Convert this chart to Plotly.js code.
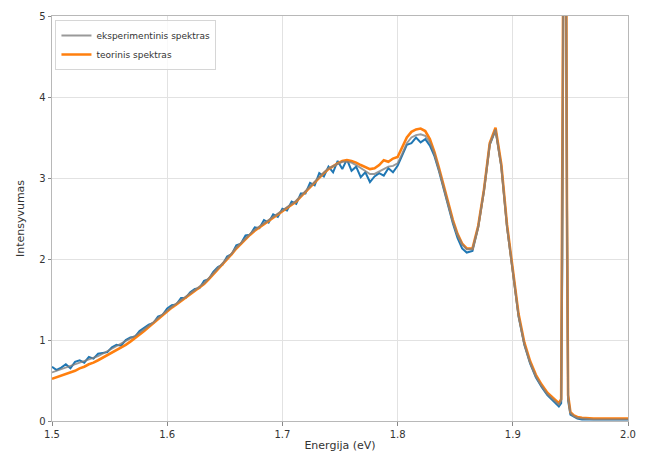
<!DOCTYPE html>
<html>
<head>
<meta charset="utf-8">
<script src="https://cdn.plot.ly/plotly-3.0.1.min.js"></script>
<style>html,body{margin:0;padding:0;background:#fff;}#chart{width:649px;height:461px;}</style>
</head>
<body>
<div id="chart"></div>
<script>
const energy = [
1.500,1.504,1.508,1.512,1.516,1.520,1.524,1.528,1.532,1.536,
1.540,1.544,1.548,1.552,1.556,1.560,1.564,1.568,1.572,1.576,
1.580,1.584,1.588,1.592,1.596,1.600,1.604,1.608,1.612,1.616,
1.620,1.624,1.628,1.632,1.636,1.640,1.644,1.648,1.652,1.656,
1.660,1.664,1.668,1.672,1.676,1.680,1.684,1.688,1.692,1.696,
1.700,1.704,1.708,1.712,1.716,1.720,1.724,1.728,1.732,1.736,
1.740,1.744,1.748,1.752,1.756,1.760,1.764,1.768,1.772,1.776,
1.780,1.784,1.788,1.792,1.796,1.800,1.804,1.808,1.812,1.816,
1.820,1.824,1.828,1.832,1.836,1.840,1.844,1.848,1.852,1.856,
1.860,1.865,1.870,1.875,1.880,1.885,1.890,1.895,1.900,1.905,
1.910,1.915,1.920,1.925,1.930,1.935,1.938,1.940,1.942,1.943,
1.944,1.945,1.946,1.947,1.948,1.950,1.953,1.956,1.960,1.970,
1.980,1.990,2.000
];

const expSmooth = [
0.60,0.62,0.64,0.66,0.68,0.70,0.72,0.74,0.76,0.78,
0.80,0.83,0.86,0.89,0.92,0.95,0.98,1.01,1.05,1.09,
1.13,1.17,1.22,1.27,1.32,1.37,1.41,1.45,1.49,1.53,
1.57,1.61,1.65,1.70,1.76,1.82,1.88,1.94,2.00,2.07,
2.14,2.20,2.26,2.31,2.36,2.40,2.44,2.48,2.51,2.55,
2.59,2.63,2.67,2.72,2.78,2.84,2.90,2.96,3.02,3.07,
3.12,3.15,3.18,3.20,3.20,3.19,3.16,3.12,3.08,3.05,
3.05,3.08,3.12,3.14,3.15,3.18,3.30,3.43,3.50,3.53,
3.54,3.52,3.44,3.30,3.10,2.88,2.66,2.46,2.30,2.18,
2.12,2.12,2.40,2.85,3.42,3.60,3.15,2.40,1.85,1.30,
0.95,0.72,0.55,0.43,0.33,0.26,0.22,0.20,0.25,2.5,
6.0,12.0,6.0,2.5,0.30,0.10,0.06,0.04,0.03,0.02,
0.02,0.02,0.02
];

const expRaw = [
0.67,0.63,0.66,0.70,0.65,0.73,0.75,0.72,0.79,0.77,
0.83,0.84,0.85,0.91,0.94,0.93,1.00,1.03,1.04,1.11,
1.15,1.19,1.21,1.29,1.31,1.39,1.43,1.44,1.52,1.52,
1.59,1.63,1.64,1.73,1.75,1.84,1.90,1.93,2.03,2.06,
2.17,2.19,2.29,2.30,2.39,2.38,2.48,2.45,2.55,2.52,
2.62,2.60,2.71,2.68,2.81,2.81,2.94,2.91,3.06,3.02,
3.14,3.07,3.21,3.11,3.23,3.09,3.14,3.01,3.07,2.95,
3.02,3.06,3.03,3.12,3.07,3.15,3.28,3.41,3.43,3.50,
3.44,3.48,3.40,3.27,3.08,2.86,2.64,2.44,2.26,2.13,
2.08,2.10,2.39,2.84,3.41,3.59,3.14,2.39,1.84,1.29,
0.94,0.71,0.54,0.42,0.32,0.25,0.21,0.18,0.22,2.0,
5.5,11.0,5.5,2.0,0.25,0.08,0.05,0.03,0.02,0.02,
0.02,0.02,0.02
];

const theory = [
0.52,0.54,0.56,0.58,0.60,0.62,0.65,0.67,0.70,0.72,
0.75,0.78,0.81,0.84,0.87,0.90,0.94,0.98,1.02,1.06,
1.11,1.16,1.21,1.26,1.31,1.36,1.40,1.44,1.48,1.52,
1.56,1.60,1.64,1.69,1.75,1.81,1.87,1.93,1.99,2.06,
2.13,2.19,2.25,2.30,2.35,2.39,2.43,2.47,2.50,2.54,
2.58,2.62,2.66,2.71,2.77,2.83,2.89,2.95,3.01,3.06,
3.11,3.15,3.18,3.21,3.22,3.21,3.19,3.16,3.13,3.11,
3.12,3.16,3.22,3.20,3.24,3.26,3.38,3.50,3.57,3.60,
3.61,3.58,3.48,3.32,3.12,2.90,2.68,2.48,2.31,2.19,
2.13,2.13,2.41,2.86,3.43,3.62,3.17,2.42,1.87,1.32,
0.97,0.74,0.57,0.45,0.35,0.28,0.24,0.22,0.27,2.6,
6.2,12.5,6.2,2.6,0.32,0.11,0.07,0.05,0.04,0.03,
0.03,0.03,0.03
];

const xTicks = [1.5, 1.6, 1.7, 1.8, 1.9, 2.0];
const xTickText = ["1.5", "1.6", "1.7", "1.8", "1.9", "2.0"];
const yTicks = [0, 1, 2, 3, 4, 5];
const yTickText = ["0", "1", "2", "3", "4", "5"];

const traces = [
  {x: energy, y: expRaw, type: 'scatter', mode: 'lines', showlegend: false,
   line: {color: '#1f77b4', width: 2}},
  {x: energy, y: theory, type: 'scatter', mode: 'lines', name: 'teorinis spektras',
   legendrank: 2, line: {color: '#ff7f0e', width: 2.6}},
  {x: energy, y: expSmooth, type: 'scatter', mode: 'lines', name: 'eksperimentinis spektras',
   legendrank: 1, opacity: 0.8, line: {color: '#7f7f7f', width: 1.9}}
];

const axisCommon = {
  showline: true, mirror: true, linecolor: '#b8b8b8', linewidth: 1,
  showgrid: true, gridcolor: '#e2e2e2', gridwidth: 1,
  ticks: 'outside', ticklen: 3.5, tickcolor: '#888', tickwidth: 1,
  zeroline: false, tickfont: {family: 'DejaVu Sans', size: 10, color: '#333'}
};

const layout = {
  width: 649, height: 461,
  margin: {l: 52, r: 21, t: 16, b: 40},
  paper_bgcolor: '#fff', plot_bgcolor: '#fff',
  showlegend: true,
  legend: {x: 0.006, y: 0.99, xanchor: 'left', yanchor: 'top',
    bgcolor: 'rgba(255,255,255,0.8)', bordercolor: '#d6d6d6', borderwidth: 1,
    font: {family: 'DejaVu Sans', size: 9, color: '#333'}, tracegroupgap: 0},
  xaxis: Object.assign({}, axisCommon, {
    range: [1.5, 2.0], tickvals: xTicks, ticktext: xTickText,
    title: {text: 'Energija (eV)', font: {family: 'DejaVu Sans', size: 11, color: '#333'}, standoff: 2}
  }),
  yaxis: Object.assign({}, axisCommon, {
    range: [0, 5], tickvals: yTicks, ticktext: yTickText,
    title: {text: 'Intensyvumas', font: {family: 'DejaVu Sans', size: 11, color: '#333'}, standoff: 12}
  })
};

Plotly.newPlot('chart', traces, layout, {staticPlot: true, displayModeBar: false});
</script>
</body>
</html>
